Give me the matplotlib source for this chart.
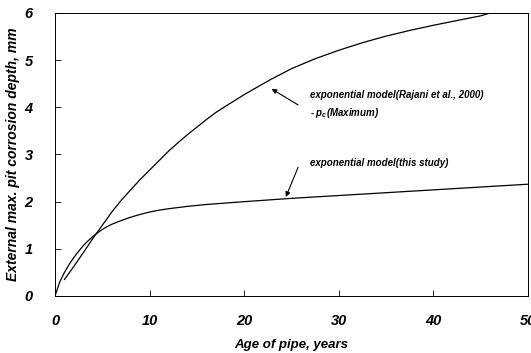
import numpy as np
import matplotlib
matplotlib.use("Agg")
import matplotlib.pyplot as plt

plt.rcParams.update({
    "font.family": "Liberation Sans",
    "font.weight": "bold",
    "font.style": "italic",
    "mathtext.fontset": "custom",
    "mathtext.it": "Liberation Sans:italic:bold",
    "mathtext.rm": "Liberation Sans:italic:bold",
})

# Rajani et al. (2000) exponential model, maximum p_c
age_rajani = [1, 2, 3, 4, 5, 6, 7, 8, 9, 10, 11, 12, 13, 14, 15, 16, 17, 18, 20, 22.7,
              25, 27.5, 30, 32.5, 35, 37.5, 40, 42.5, 45, 46, 50]
depth_rajani = [0.35, 0.63, 0.92, 1.22, 1.5, 1.78, 2.03, 2.25, 2.47, 2.67, 2.87, 3.07,
                3.25, 3.42, 3.58, 3.74, 3.89, 4.02, 4.27, 4.58, 4.82, 5.03, 5.21, 5.37,
                5.51, 5.63, 5.74, 5.84, 5.94, 6.0, 6.0]

# exponential model (this study)
age_study = [0, 0.5, 1, 1.5, 2, 2.5, 3, 3.5, 4, 4.5, 5, 5.5, 6, 7, 8, 9, 10, 11, 12,
             14, 16, 18, 20, 25, 30, 35, 40, 45, 50]
depth_study = [0, 0.3, 0.5, 0.67, 0.82, 0.95, 1.07, 1.17, 1.26, 1.34, 1.41, 1.47, 1.52,
               1.6, 1.67, 1.73, 1.78, 1.82, 1.85, 1.9, 1.94, 1.97, 2.0, 2.07, 2.13,
               2.19, 2.25, 2.31, 2.37]

fig = plt.figure(figsize=(5.31, 3.53), dpi=100)
ax = fig.add_axes([0.1036, 0.1615, 0.8908, 0.8017])

ax.plot(age_rajani, depth_rajani, color="black", lw=0.9)
ax.plot(age_study, depth_study, color="black", lw=0.9)

ax.set_xlim(0, 50)
ax.set_ylim(0, 6)
ax.set_xticks([0, 10, 20, 30, 40, 50])
ax.set_yticks([0, 1, 2, 3, 4, 5, 6])
ax.tick_params(direction="in", length=4, width=0.6, labelsize=10.5)
ax.tick_params(axis="x", pad=13)
ax.tick_params(axis="y", pad=16)
for lab in ax.get_xticklabels() + ax.get_yticklabels():
    lab.set_fontweight("bold")
    lab.set_fontstyle("italic")
for s in ax.spines.values():
    s.set_linewidth(0.7)

ax.set_xlabel("Age of pipe, years", fontsize=9.5, fontweight="bold", fontstyle="italic",
              labelpad=8)
ax.set_ylabel("External max. pit corrosion depth, mm", fontsize=10, fontweight="bold",
              fontstyle="italic", labelpad=3)

arrow = dict(arrowstyle="-|>", color="black", lw=0.8, mutation_scale=7,
             shrinkA=0, shrinkB=0)
txt = dict(fontsize=7, fontweight="bold", fontstyle="italic", va="center", ha="left")

ax.text(27.0, 4.26, "exponential model(Rajani et al., 2000)", **txt)
ax.text(27.0, 3.88, "- $p_{c}$(Maximum)", **txt)
ax.annotate("", xy=(22.9, 4.39), xytext=(25.7, 4.05), arrowprops=arrow)

ax.text(27.0, 2.82, "exponential model(this study)", **txt)
ax.annotate("", xy=(24.4, 2.10), xytext=(25.7, 2.73), arrowprops=arrow)

fig.savefig("out.png", dpi=100)
